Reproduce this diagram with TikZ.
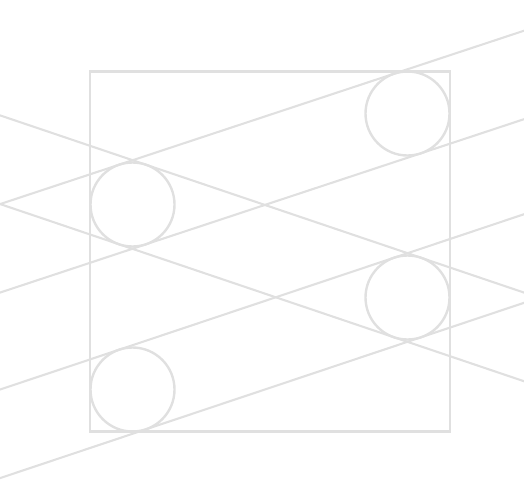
\documentclass[tikz,border=0pt]{standalone}
\usetikzlibrary{calc}
\definecolor{ln}{RGB}{224,224,224}
\tikzset{
  shape line/.style={draw=ln, line width=2.4pt},
  tangent line/.style={draw=ln, line width=2.1pt},
  ring/.style={shape line, circle, minimum size=84pt, inner sep=0pt, outer sep=0pt},
  frame/.style={shape line, rectangle, minimum size=360pt, inner sep=0pt, outer sep=0pt}
}
\begin{document}
\begin{tikzpicture}[x=1pt,y=-1pt]
\useasboundingbox (0,0) rectangle (524,488);
\clip (0,0) rectangle (524,488);
\node[frame] (sq) at (270,251.5) {};
\node[ring] (A) at (132.5,204.5) {};
\node[ring] (B) at (407.5,113.5) {};
\node[ring] (C) at (407.5,297.5) {};
\node[ring] (D) at (132.5,389.5) {};
% external tangents
\foreach \p/\q/\s in {A/C/90, A/C/-90, A/B/90, A/B/-90, D/C/90, D/C/-90}{
  \coordinate (t1) at ($(\p.center)!42pt!\s:(\q.center)$);
  \coordinate (t2) at ($(\q.center)!42pt!-\s:(\p.center)$);
  \draw[tangent line] ($(t1)!-1.2!(t2)$) -- ($(t2)!-1.2!(t1)$);
}
\end{tikzpicture}
\end{document}
